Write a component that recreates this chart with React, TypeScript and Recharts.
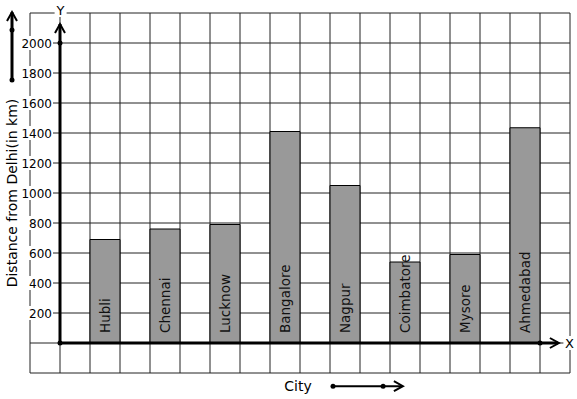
import React from 'react';
import {
  BarChart,
  Bar,
  XAxis,
  YAxis,
  CartesianGrid,
  LabelList,
  ReferenceLine,
  ReferenceDot,
} from 'recharts';

// cities and their distance from Delhi (km)
const cities = ['Hubli', 'Chennai', 'Lucknow', 'Bangalore', 'Nagpur', 'Coimbatore', 'Mysore', 'Ahmedabad'];
const distances = [690, 760, 790, 1410, 1050, 540, 590, 1435];
// grid column (0..17) where each bar stands
const columns = [2, 4, 6, 8, 10, 12, 14, 16];

const yTickLabels = [200, 400, 600, 800, 1000, 1200, 1400, 1600, 1800, 2000];
const gridRows = [-200, 0, 200, 400, 600, 800, 1000, 1200, 1400, 1600, 1800, 2000, 2200];
const gridCols = Array.from({ length: 19 }, (_, i) => i);

const data = cities.map((city, i) => ({
  city,
  slot: columns[i] + 0.5,
  km: distances[i],
}));

const FONT = '"DejaVu Sans", sans-serif';
const INK = '#000';

const YTick = (props: any) => {
  const { x, y, payload } = props;
  return (
    <g>
      <rect x={x - 8} y={y - 7} width={31} height={14} fill="#fff" />
      <text x={x + 22} y={y} dy={4.5} textAnchor="end" fontSize={12} fontFamily={FONT} fill={INK}>
        {payload.value}
      </text>
    </g>
  );
};

// city name written upwards inside the bar
const renderCityLabel = (props: any) => {
  const { x, y, width, height, value } = props;
  const cx = x + width / 2 + 5;
  const cy = y + height - 10;
  return (
    <text
      x={cx}
      y={cy}
      transform={`rotate(-90 ${cx} ${cy})`}
      textAnchor="start"
      fontSize={13.5}
      fontFamily={FONT}
      fill="#111"
    >
      {value}
    </text>
  );
};

const Dot = (props: any) => <circle cx={props.cx} cy={props.cy} r={2.5} fill={INK} />;

// open arrow heads
const ChevronUp = (props: any) => (
  <polyline
    points={`${props.cx - 5},${props.cy + 9} ${props.cx},${props.cy} ${props.cx + 5},${props.cy + 9}`}
    fill="none"
    stroke={INK}
    strokeWidth={2}
  />
);
const ChevronRight = (props: any) => (
  <polyline
    points={`${props.cx - 9},${props.cy - 5} ${props.cx},${props.cy} ${props.cx - 9},${props.cy + 5}`}
    fill="none"
    stroke={INK}
    strokeWidth={2}
  />
);

const tag = (txt: string) => (props: any) => (
  <g>
    <rect x={props.cx - 6} y={props.cy - 7} width={12} height={14} fill="#fff" />
    <text
      x={props.cx}
      y={props.cy}
      dy={5}
      textAnchor="middle"
      fontSize={13}
      fontFamily={FONT}
      fill={INK}
    >
      {txt}
    </text>
  </g>
);

// grid columns follow the x scale when available
const colLines = ({ xAxis, offset }: any) =>
  gridCols.map((c) =>
    xAxis && typeof xAxis.scale === 'function'
      ? xAxis.scale(c)
      : offset.left + (c * offset.width) / 18
  );

export default function App() {
  return (
    <div
      style={{
        position: 'absolute',
        left: 0,
        top: 0,
        width: 577,
        height: 399,
        background: '#fff',
        fontFamily: FONT,
      }}
    >
      <BarChart
        width={577}
        height={399}
        data={data}
        margin={{ top: 13, right: 7, bottom: 0, left: 0 }}
      >
        <CartesianGrid
          stroke="#222"
          strokeWidth={1}
          horizontalValues={gridRows}
          verticalCoordinatesGenerator={colLines}
        />
        <XAxis
          type="number"
          dataKey="slot"
          domain={[0, 18]}
          ticks={gridCols}
          tick={false}
          tickLine={false}
          axisLine={false}
          height={26}
          label={{
            value: 'City',
            position: 'insideBottom',
            offset: 8,
            dx: -2,
            fontSize: 14,
            fill: INK,
            fontFamily: FONT,
          }}
        />
        <YAxis
          type="number"
          domain={[-200, 2200]}
          ticks={yTickLabels}
          width={30}
          tickSize={0}
          tickMargin={0}
          tickLine={false}
          axisLine={false}
          tick={YTick}
          allowDataOverflow
          label={{
            value: 'Distance from Delhi(in km)',
            angle: -90,
            position: 'insideLeft',
            offset: 12,
            fontSize: 14,
            fill: INK,
            fontFamily: FONT,
            style: { textAnchor: 'middle' },
          }}
        />
        <Bar
          dataKey="km"
          barSize={30}
          fill="#999999"
          stroke={INK}
          strokeWidth={1}
          isAnimationActive={false}
        >
          <LabelList dataKey="city" content={renderCityLabel} />
        </Bar>

        {/* axes drawn through the origin */}
        <ReferenceLine
          segment={[{ x: 1, y: 0 }, { x: 1, y: 2127 }]}
          stroke={INK}
          strokeWidth={3}
          ifOverflow="visible"
        />
        <ReferenceLine
          segment={[{ x: 1, y: 0 }, { x: 17.6, y: 0 }]}
          stroke={INK}
          strokeWidth={3}
          ifOverflow="visible"
        />
        <ReferenceDot x={1} y={2127} ifOverflow="visible" shape={ChevronUp} />
        <ReferenceDot x={17.63} y={0} ifOverflow="visible" shape={ChevronRight} />
        <ReferenceDot x={1} y={0} ifOverflow="visible" shape={Dot} />
        <ReferenceDot x={1} y={2000} ifOverflow="visible" shape={Dot} />
        <ReferenceDot x={17} y={0} ifOverflow="visible" shape={Dot} />
        <ReferenceDot x={1.02} y={2220} ifOverflow="visible" shape={tag('Y')} />
        <ReferenceDot x={17.98} y={0} ifOverflow="visible" shape={tag('X')} />

        {/* decorative arrows beside the axis titles */}
        <ReferenceLine
          segment={[{ x: -0.6, y: 1753 }, { x: -0.6, y: 2205 }]}
          stroke={INK}
          strokeWidth={3}
          ifOverflow="visible"
        />
        <ReferenceDot x={-0.6} y={2207} ifOverflow="visible" shape={ChevronUp} />
        <ReferenceDot x={-0.6} y={1753} ifOverflow="visible" shape={Dot} />
        <ReferenceDot x={-0.6} y={2087} ifOverflow="visible" shape={Dot} />
        <ReferenceLine
          segment={[{ x: 10.1, y: -288 }, { x: 12.4, y: -288 }]}
          stroke={INK}
          strokeWidth={2}
          ifOverflow="visible"
        />
        <ReferenceDot x={12.43} y={-288} ifOverflow="visible" shape={ChevronRight} />
        <ReferenceDot x={10.1} y={-288} ifOverflow="visible" shape={Dot} />
        <ReferenceDot x={11.77} y={-288} ifOverflow="visible" shape={Dot} />
      </BarChart>
    </div>
  );
}
